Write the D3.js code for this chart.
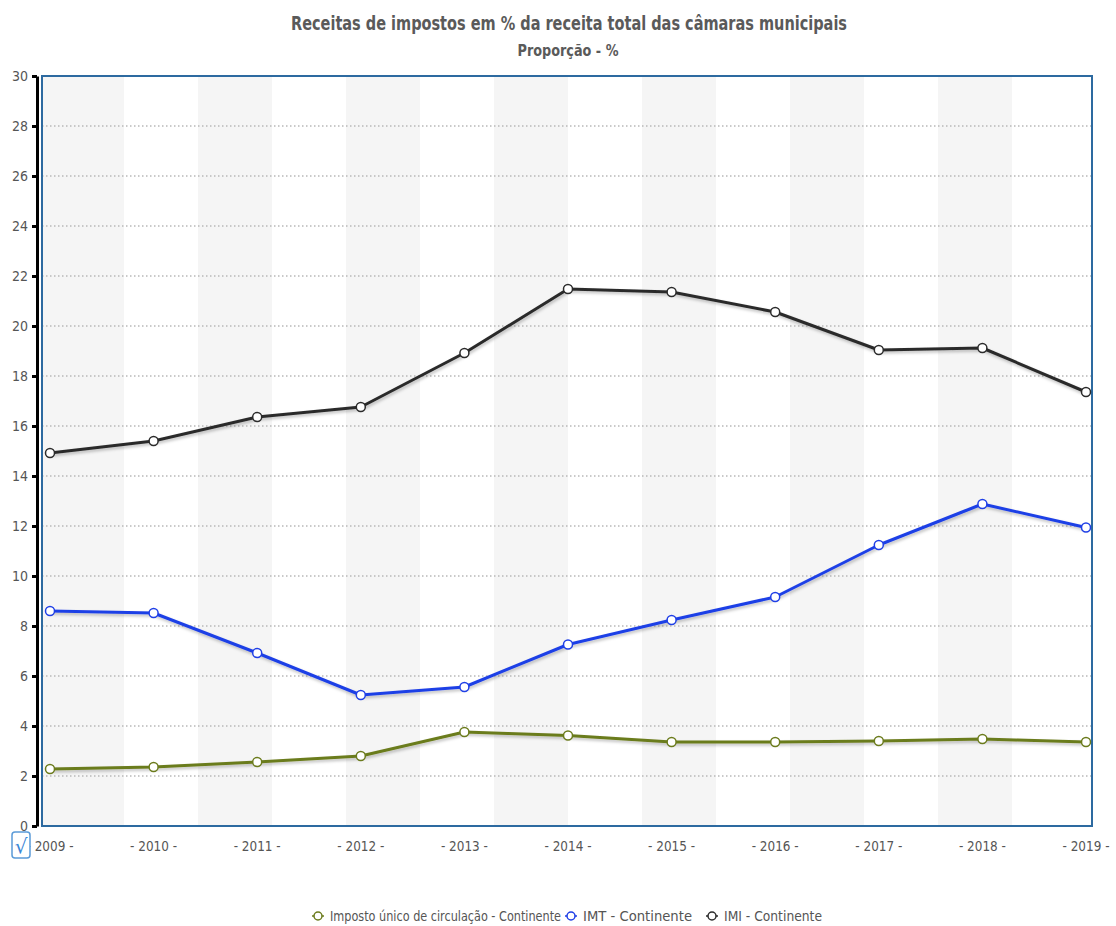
<!DOCTYPE html>
<html>
<head>
<meta charset="utf-8">
<script src="https://cdn.jsdelivr.net/npm/d3@7"></script>
<style>
  body { margin: 0; background: #fff; }
  svg { display: block; }
</style>
</head>
<body>
<svg id="chart"></svg>
<script>
// Data
let years = [2009, 2010, 2011, 2012, 2013, 2014, 2015, 2016, 2017, 2018, 2019];
let iuc = [2.28, 2.36, 2.56, 2.8, 3.76, 3.62, 3.36, 3.36, 3.4, 3.48, 3.36];
let imt = [8.6, 8.52, 6.92, 5.24, 5.56, 7.26, 8.24, 9.16, 11.24, 12.88, 11.94];
let imi = [14.92, 15.4, 16.36, 16.76, 18.92, 21.48, 21.36, 20.56, 19.04, 19.12, 17.36];
let yTicks = [0, 2, 4, 6, 8, 10, 12, 14, 16, 18, 20, 22, 24, 26, 28, 30];
let seriesNames = ["Imposto único de circulação - Continente", "IMT - Continente", "IMI - Continente"];

// Colors
let cgreen = "#6b7b1c";
let cblue = "#1f3fe6";
let cblack = "#2b2b2b";
let textGrey = "#555";

let font = "'DejaVu Sans Condensed', 'Liberation Sans Narrow', sans-serif";

let width = 1116;
let height = 926;
let frame = {left: 42, right: 1092, top: 76, bottom: 826};

let svg = d3.select("#chart")
  .attr("width", width)
  .attr("height", height);

let xax = d3.scaleLinear()
  .domain([2009, 2019])
  .range([50, 1086]);
let yax = d3.scaleLinear()
  .domain([0, 30])
  .range([frame.bottom, frame.top]);

// shadow under the lines
let defs = svg.append("defs");
let shadow = defs.append("filter")
  .attr("id", "shadow")
  .attr("x", "-5%").attr("y", "-20%")
  .attr("width", "110%").attr("height", "160%");
shadow.append("feDropShadow")
  .attr("dx", 1).attr("dy", 2)
  .attr("stdDeviation", 1.5)
  .attr("flood-color", "#000")
  .attr("flood-opacity", 0.25);

defs.append("clipPath")
  .attr("id", "plotClip")
  .append("rect")
  .attr("x", frame.left)
  .attr("y", frame.top)
  .attr("width", frame.right - frame.left)
  .attr("height", frame.bottom - frame.top);

// alternating background bands
let nBands = 14;
let bandEdges = d3.range(nBands + 1).map(i => xax(2009 + i * (2019 - 2009) / nBands));
svg.append("g")
  .attr("clip-path", "url(#plotClip)")
  .selectAll("rect")
  .data(d3.range(0, nBands, 2))
  .join("rect")
    .attr("x", i => i == 0 ? frame.left : bandEdges[i])
    .attr("width", i => bandEdges[i + 1] - (i == 0 ? frame.left : bandEdges[i]))
    .attr("y", frame.top)
    .attr("height", frame.bottom - frame.top)
    .attr("fill", "#f5f5f5");

// dotted grid
svg.append("g")
  .selectAll("line")
  .data(yTicks.filter(d => d > 0 && d < 30))
  .join("line")
    .attr("x1", frame.left)
    .attr("x2", frame.right)
    .attr("y1", d => yax(d))
    .attr("y2", d => yax(d))
    .attr("stroke", "#b8b8b8")
    .attr("stroke-width", 1.5)
    .attr("stroke-dasharray", "1.5,2.5");

// frame
svg.append("rect")
  .attr("x", frame.left)
  .attr("y", frame.top)
  .attr("width", frame.right - frame.left)
  .attr("height", frame.bottom - frame.top)
  .attr("fill", "none")
  .attr("stroke", "#2d6aa0")
  .attr("stroke-width", 2);

// y axis
let yAxis = d3.axisLeft(yax)
  .tickValues(yTicks)
  .tickSize(5)
  .tickPadding(4)
  .tickSizeOuter(0);
let yg = svg.append("g")
  .attr("transform", "translate(37, 0)")
  .call(yAxis);
yg.select(".domain")
  .attr("stroke", "#000")
  .attr("stroke-width", 3);
yg.selectAll(".tick line")
  .attr("stroke", "#000")
  .attr("stroke-width", 3);
yg.selectAll(".tick text")
  .attr("fill", textGrey)
  .attr("font-size", 14)
  .attr("font-family", font);

// x labels
svg.append("g")
  .selectAll("text")
  .data(years)
  .join("text")
    .attr("x", d => xax(d))
    .attr("y", 851)
    .attr("text-anchor", "middle")
    .attr("fill", textGrey)
    .attr("font-size", 14)
    .attr("font-family", font)
    .attr("textLength", 47)
    .attr("lengthAdjust", "spacingAndGlyphs")
    .text(d => "- " + d + " -");

// checkbox
let cb = svg.append("g");
cb.append("rect")
  .attr("x", 12).attr("y", 832)
  .attr("width", 18).attr("height", 26)
  .attr("rx", 3)
  .attr("fill", "#fff")
  .attr("stroke", "#5b9bd8")
  .attr("stroke-width", 1.5);
cb.append("text")
  .attr("x", 21).attr("y", 853)
  .attr("text-anchor", "middle")
  .attr("fill", "#3b86d6")
  .attr("font-size", 20)
  .attr("font-family", "'DejaVu Sans', sans-serif")
  .text("√");

// series
let series = [
  {name: seriesNames[0], values: iuc, color: cgreen},
  {name: seriesNames[1], values: imt, color: cblue},
  {name: seriesNames[2], values: imi, color: cblack}
];

let line = d3.line()
  .x((d, i) => xax(years[i]))
  .y(d => yax(d));

let sg = svg.append("g")
  .selectAll("g")
  .data(series)
  .join("g");

sg.append("path")
  .attr("d", d => line(d.values))
  .attr("fill", "none")
  .attr("stroke", d => d.color)
  .attr("stroke-width", 3)
  .attr("stroke-linejoin", "round")
  .attr("filter", "url(#shadow)");

sg.selectAll("circle")
  .data(d => d.values.map((v, i) => ({v: v, year: years[i], color: d.color})))
  .join("circle")
    .attr("cx", d => xax(d.year))
    .attr("cy", d => yax(d.v))
    .attr("r", 4.5)
    .attr("fill", "#fff")
    .attr("stroke", d => d.color)
    .attr("stroke-width", 1.5);

// titles
svg.append("text")
  .attr("x", 569)
  .attr("y", 30)
  .attr("text-anchor", "middle")
  .attr("fill", "#5a5a5a")
  .attr("font-weight", "bold")
  .attr("font-size", 19)
  .attr("font-family", font)
  .attr("textLength", 556)
  .attr("lengthAdjust", "spacingAndGlyphs")
  .text("Receitas de impostos em % da receita total das câmaras municipais");

svg.append("text")
  .attr("x", 568)
  .attr("y", 56)
  .attr("text-anchor", "middle")
  .attr("fill", "#5a5a5a")
  .attr("font-weight", "bold")
  .attr("font-size", 15)
  .attr("font-family", font)
  .attr("textLength", 101)
  .attr("lengthAdjust", "spacingAndGlyphs")
  .text("Proporção - %");

// legend
let legendX = [318, 571, 712];
let legendW = [231, 109, 98];
let lg = svg.append("g")
  .selectAll("g")
  .data(series)
  .join("g")
    .attr("transform", (d, i) => `translate(${legendX[i]}, 916)`);
lg.append("line")
  .attr("x1", -6).attr("x2", 6)
  .attr("stroke", d => d.color)
  .attr("stroke-width", 1.5);
lg.append("circle")
  .attr("r", 4)
  .attr("fill", "#fff")
  .attr("stroke", d => d.color)
  .attr("stroke-width", 1.5);
lg.append("text")
  .attr("x", 12)
  .attr("y", 5)
  .attr("fill", textGrey)
  .attr("font-size", 14)
  .attr("font-family", font)
  .attr("textLength", (d, i) => legendW[i])
  .attr("lengthAdjust", "spacingAndGlyphs")
  .text(d => d.name);
</script>
</body>
</html>
